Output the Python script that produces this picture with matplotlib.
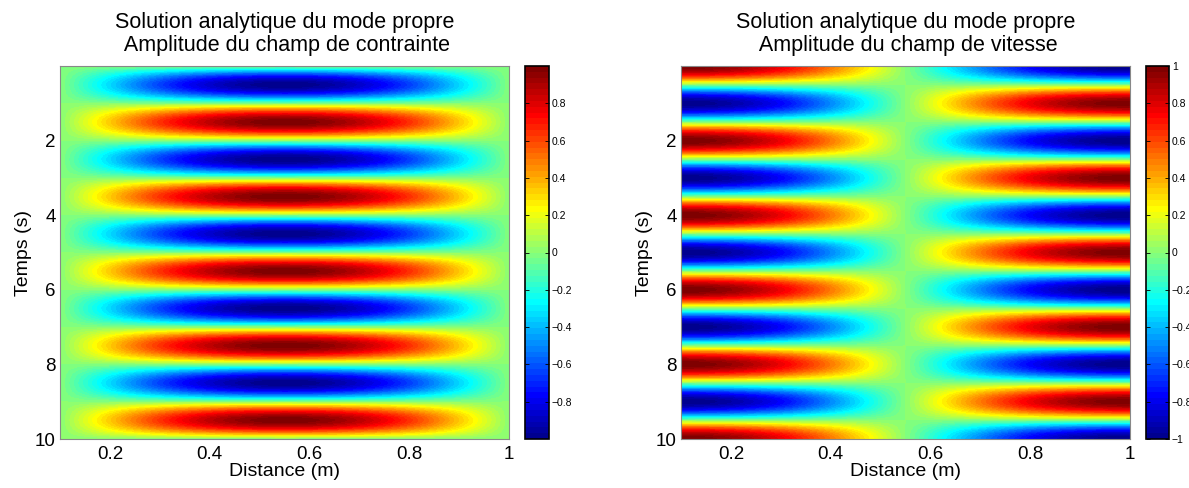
import numpy as np
import matplotlib
matplotlib.use("Agg")
import matplotlib.pyplot as plt
from matplotlib.colors import ListedColormap

# ---- data (analytic eigenmode, domain) ----
x_start, x_end = 0.1, 1.0          # distance (m)
t_start, t_end = 0.0, 10.0         # time (s)
period = 2.0                        # temporal period (s)
n_x, n_t = 451, 1001
x = np.linspace(x_start, x_end, n_x)
t = np.linspace(t_start, t_end, n_t)
titles = ["Solution analytique du mode propre\n Amplitude du champ de contrainte",
          "Solution analytique du mode propre\n Amplitude du champ de vitesse"]
xticks = [0.2, 0.4, 0.6, 0.8, 1.0]
xticklabels = ["0.2", "0.4", "0.6", "0.8", "1"]
yticks = [2, 4, 6, 8, 10]
yticklabels = ["2", "4", "6", "8", "10"]
cb_ticks_left = [-0.8, -0.6, -0.4, -0.2, 0, 0.2, 0.4, 0.6, 0.8]
cb_ticks_right = [-1, -0.8, -0.6, -0.4, -0.2, 0, 0.2, 0.4, 0.6, 0.8, 1]

X, T = np.meshgrid(x, t)
ks = np.pi / (x_end - x_start)
w = 2 * np.pi / period
stress = -np.sin(w * T) * np.sin(ks * (X - x_start))
velocity = np.cos(w * T) * np.cos(ks * (X - x_start))


def matlab_jet(m=64):
    n = int(np.ceil(m / 4))
    u = np.concatenate([np.arange(1, n + 1) / n, np.ones(n - 1), np.arange(n, 0, -1) / n])
    g = int(np.ceil(n / 2)) - (1 if m % 4 == 1 else 0) + np.arange(1, len(u) + 1)
    r = g + n
    b = g - n
    J = np.zeros((m, 3))
    for col, idx in enumerate([r, g, b]):
        for i, val in zip(idx, u):
            if 1 <= i <= m:
                J[i - 1, col] = val
    return ListedColormap(J)


cmap = matlab_jet(64)
plt.rcParams['font.family'] = ['Liberation Sans', 'DejaVu Sans']

fig = plt.figure(figsize=(11.89, 4.88), dpi=100)
ax_pos = [[60 / 1189, 49 / 488, 449 / 1189, 373 / 488],
          [681 / 1189, 49 / 488, 449 / 1189, 373 / 488]]
cb_pos = [[525 / 1189, 49 / 488, 24 / 1189, 373 / 488],
          [1146 / 1189, 49 / 488, 23 / 1189, 373 / 488]]
fields = [stress, velocity]
cb_ticks = [cb_ticks_left, cb_ticks_right]


def fmt(v):
    s = ("%g" % round(v, 2))
    return s.replace("-", "\u2212")


for i in range(2):
    ax = fig.add_axes(ax_pos[i])
    data = fields[i]
    vmin, vmax = data.min(), data.max()
    if i == 0:
        vmin, vmax = -0.9999, 0.9999
    im = ax.imshow(data, cmap=cmap, vmin=vmin, vmax=vmax, aspect='auto',
                   extent=[x_start, x_end, t_end, t_start], interpolation='nearest')
    ax.set_xlim(x_start, x_end)
    ax.set_ylim(t_end, t_start)
    ax.set_xticks(xticks)
    ax.set_xticklabels(xticklabels)
    ax.set_yticks(yticks)
    ax.set_yticklabels(yticklabels)
    ax.tick_params(axis='x', length=0, labelsize=13.5, pad=5)
    ax.tick_params(axis='y', length=0, labelsize=13.5, pad=3)
    for sp in ax.spines.values():
        sp.set_color('#888888')
        sp.set_linewidth(0.8)
    ax.set_xlabel("Distance (m)", fontsize=14, labelpad=0)
    ax.set_ylabel("Temps (s)", fontsize=14, labelpad=2)
    ax.set_title(titles[i], fontsize=15.5, linespacing=1.12, pad=11)

    cax = fig.add_axes(cb_pos[i])
    cb = fig.colorbar(im, cax=cax)
    cb.set_ticks(cb_ticks[i])
    cb.set_ticklabels([fmt(v) for v in cb_ticks[i]])
    cax.tick_params(direction='in', length=3, width=0.6, labelsize=7.5, pad=2,
                    left=True, right=True, colors='black')
    cb.outline.set_linewidth(1.2)
    cb.outline.set_edgecolor('black')

fig.savefig("out.png", dpi=100)
